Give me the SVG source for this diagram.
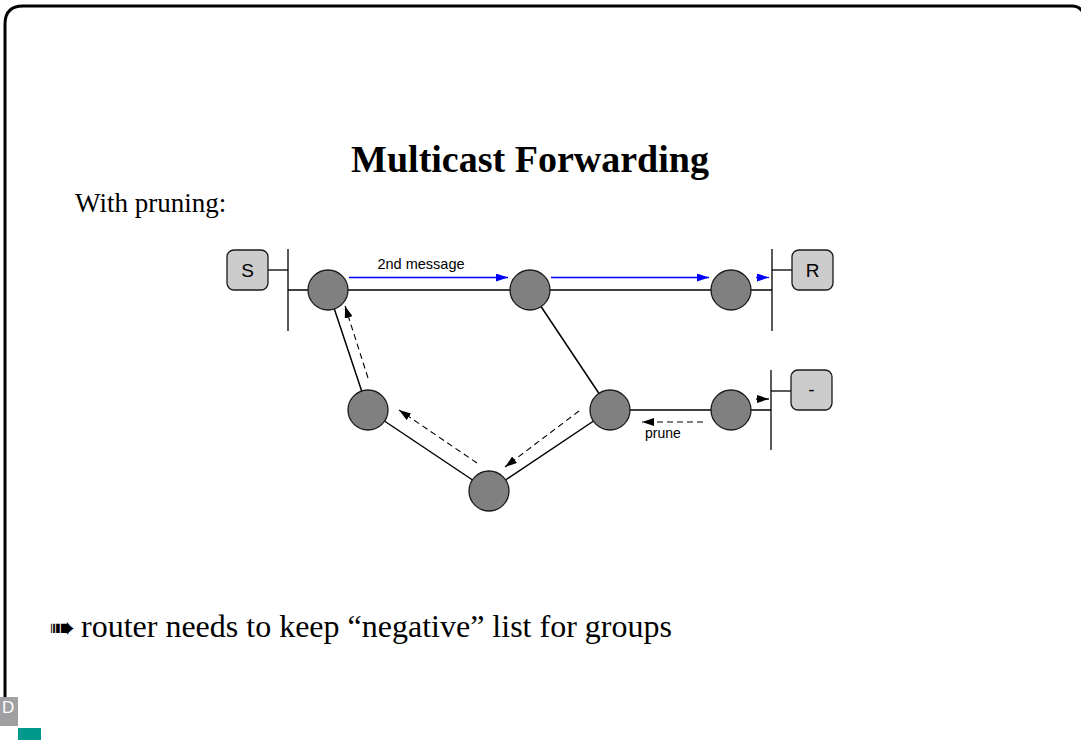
<svg xmlns="http://www.w3.org/2000/svg" width="1081" height="740" viewBox="0 0 1081 740">
  <style>
    .serif { font-family: "Liberation Serif", "Times New Roman", serif; fill: #000; }
    .sans { font-family: "Liberation Sans", Arial, sans-serif; fill: #000; }
    .router { fill: #808080; stroke: #1a1a1a; stroke-width: 1.3; }
    .host { fill: #cccccc; stroke: #1a1a1a; stroke-width: 1.3; }
    .link { stroke: #000; stroke-width: 1.5; fill: none; }
    .bus { stroke: #000; stroke-width: 1.3; fill: none; }
    .msg { stroke: #0000ff; stroke-width: 1.3; fill: none; }
    .prune { stroke: #000; stroke-width: 1.1; fill: none; stroke-dasharray: 6 4; }
  </style>
  <defs>
    <marker id="blueHead" viewBox="0 0 12 8" refX="12" refY="4" markerWidth="12" markerHeight="8" markerUnits="userSpaceOnUse" orient="auto">
      <path d="M0,0 L12,4 L0,8 Z" fill="#0000ff"/>
    </marker>
    <marker id="blackHead" viewBox="0 0 12 8" refX="12" refY="4" markerWidth="12" markerHeight="8" markerUnits="userSpaceOnUse" orient="auto">
      <path d="M0,0 L12,4 L0,8 Z" fill="#000"/>
    </marker>
  </defs>

  <rect width="1081" height="740" fill="#fff"/>

  <!-- slide frame -->
  <path d="M5,697 V24 Q5,6 23,6 H1072 Q1080,6 1084,14" fill="none" stroke="#000" stroke-width="3"/>

  <!-- corner logo -->
  <g id="logo">
    <rect x="0" y="697" width="18" height="29" fill="#a0a0a2"/>
    <text x="2" y="713" class="sans" style="fill:#fff;font-size:17px">D</text>
    <rect x="18" y="728" width="23" height="12" fill="#00998c"/>
  </g>

  <text x="530" y="172" class="serif" text-anchor="middle" style="font-size:38px;font-weight:bold">Multicast Forwarding</text>
  <text x="75" y="212" class="serif" style="font-size:27px">With pruning:</text>

  <!-- links and message flows -->
  <g id="connectors">
    <!-- LAN buses -->
    <line class="bus" x1="288" y1="249" x2="288" y2="331"/>
    <line class="bus" x1="772" y1="249" x2="772" y2="331"/>
    <line class="bus" x1="771" y1="370" x2="771" y2="450"/>
    <line class="bus" x1="268" y1="270" x2="288" y2="270"/>
    <line class="bus" x1="772" y1="270" x2="792" y2="270"/>
    <line class="bus" x1="771" y1="391" x2="791" y2="391"/>

    <!-- router links -->
    <line class="link" x1="288" y1="290" x2="772" y2="290"/>
    <line class="link" x1="530" y1="290" x2="610" y2="410"/>
    <line class="link" x1="328" y1="290" x2="368" y2="410"/>
    <line class="link" x1="368" y1="410" x2="489" y2="491"/>
    <line class="link" x1="489" y1="491" x2="610" y2="410"/>
    <line class="link" x1="610" y1="410" x2="771" y2="410"/>

    <!-- data flow (blue) -->
    <line class="msg" x1="349" y1="277.5" x2="508" y2="277.5" marker-end="url(#blueHead)"/>
    <line class="msg" x1="551" y1="277.5" x2="709" y2="277.5" marker-end="url(#blueHead)"/>
    <line class="msg" x1="756" y1="277.5" x2="769" y2="277.5" marker-end="url(#blueHead)"/>
    <line class="bus" x1="756" y1="399" x2="769" y2="399" marker-end="url(#blackHead)"/>

    <!-- prune messages (dashed) -->
    <line class="prune" x1="703" y1="422" x2="642" y2="422" marker-end="url(#blackHead)"/>
    <line class="prune" x1="579" y1="411" x2="505" y2="467" marker-end="url(#blackHead)"/>
    <line class="prune" x1="477" y1="463" x2="399" y2="410" marker-end="url(#blackHead)"/>
    <line class="prune" x1="368" y1="378" x2="345" y2="306" marker-end="url(#blackHead)"/>

    <text x="421" y="269" class="sans" text-anchor="middle" style="font-size:14.5px">2nd message</text>
    <text x="645" y="438" class="sans" style="font-size:14px">prune</text>
  </g>

  <!-- hosts -->
  <g id="host-S">
    <rect class="host" x="227" y="250" width="41" height="40" rx="7"/>
    <text x="247.5" y="277" class="sans" text-anchor="middle" style="font-size:19px">S</text>
  </g>
  <g id="host-R">
    <rect class="host" x="792" y="250" width="41" height="40" rx="7"/>
    <text x="812.5" y="277" class="sans" text-anchor="middle" style="font-size:19px">R</text>
  </g>
  <g id="host-none">
    <rect class="host" x="791" y="370" width="41" height="40" rx="7"/>
    <text x="811.5" y="396" class="sans" text-anchor="middle" style="font-size:19px">-</text>
  </g>

  <!-- routers -->
  <g id="router-1"><circle class="router" cx="328" cy="290" r="20"/></g>
  <g id="router-2"><circle class="router" cx="530" cy="290" r="20"/></g>
  <g id="router-3"><circle class="router" cx="731" cy="290" r="20"/></g>
  <g id="router-4"><circle class="router" cx="368" cy="410" r="20"/></g>
  <g id="router-5"><circle class="router" cx="489" cy="491" r="20"/></g>
  <g id="router-6"><circle class="router" cx="610" cy="410" r="20"/></g>
  <g id="router-7"><circle class="router" cx="731" cy="410" r="20"/></g>

  <!-- conclusion bullet -->
  <text x="49" y="638" style="font-family:'DejaVu Sans',sans-serif;font-size:31px">➠</text>
  <text x="81" y="637" class="serif" style="font-size:32px">router needs to keep “negative” list for groups</text>
</svg>
